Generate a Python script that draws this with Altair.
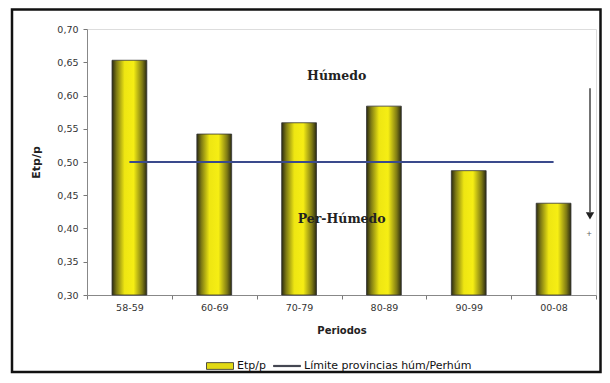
import altair as alt
import pandas as pd

periods = ["58-59", "60-69", "70-79", "80-89", "90-99", "00-08"]
etp_p = [0.653, 0.542, 0.559, 0.584, 0.487, 0.438]
limit_value = 0.50
series_names = ["Etp/p", "Límite provincias húm/Perhúm"]
y_ticks = [0.30, 0.35, 0.40, 0.45, 0.50, 0.55, 0.60, 0.65, 0.70]

bars_df = pd.DataFrame({"Periodo": periods, "Etp/p": etp_p})
limit_df = pd.DataFrame({"Periodo": [periods[0], periods[-1]], "v": [limit_value, limit_value]})
legend_df = pd.DataFrame({"serie": series_names})
labels_df = pd.DataFrame({
    "Periodo": ["70-79", "70-79"],
    "v": [0.629, 0.414],
    "txt": ["Húmedo", "Per-Húmedo"],
    "dx": [80, 85],
})
arrow_df = pd.DataFrame({"y1": [0.611], "y2": [0.425], "head": [0.419], "plus": [0.392]})

W, H = 509, 266
PL, PT, PR, PB = 79, 21, 6, 79
SANS = "DejaVu Sans"

xscale = alt.Scale(domain=periods, paddingInner=0, paddingOuter=0)
yscale = alt.Scale(domain=[0.30, 0.70], nice=False, zero=False)

grad = alt.Gradient(
    gradient="linear",
    x1=0, x2=1, y1=0, y2=0,
    stops=[
        alt.GradientStop(color="#2a2a12", offset=0),
        alt.GradientStop(color="#7e7a14", offset=0.13),
        alt.GradientStop(color="#eee612", offset=0.36),
        alt.GradientStop(color="#f6ee14", offset=0.62),
        alt.GradientStop(color="#7e7a14", offset=0.87),
        alt.GradientStop(color="#2a2a12", offset=1),
    ],
)

x_axis = alt.Axis(
    title="Periodos", labelAngle=0, tickBand="extent", tickSize=4,
    labelPadding=3, titlePadding=14, labelFontSize=9.5, titleFontSize=10,
    titleFontWeight="bold", labelColor="#333", titleColor="#222",
    domainColor="#888", tickColor="#777", labelFont=SANS,
    titleFont=SANS, labelOverlap=False,
)
y_axis = alt.Axis(
    title="Etp/p", values=y_ticks, grid=False, tickSize=4, labelPadding=5,
    labelExpr="replace(format(datum.value, '.2f'), '.', ',')",
    labelFontSize=9.5, titleFontSize=11, titleFontWeight="bold",
    labelColor="#333", titleColor="#222", domainColor="#888",
    tickColor="#777", labelFont=SANS, titleFont=SANS,
    titleX=-51, titleY=H / 2, titleAngle=-90, titleBaseline="middle",
    titleAlign="center", labelOverlap=False,
)


def X(field):
    return alt.X(field, type="nominal", scale=xscale, sort=periods, axis=x_axis)


def Y(field):
    return alt.Y(field, type="quantitative", scale=yscale, axis=y_axis)


frame = alt.Chart(pd.DataFrame({"a": [0]})).mark_rect(
    fill=None, stroke="#111", strokeWidth=2.5, clip=False
).encode(
    x=alt.value(-PL + 4), x2=alt.value(W + PR - 1.5),
    y=alt.value(-PT + 1.5), y2=alt.value(H + PB - 2),
)

bars = alt.Chart(bars_df).mark_bar(
    fill=grad, stroke="#333", strokeWidth=0.8, width={"band": 0.41}
).encode(x=X("Periodo"), y=Y("Etp/p"), y2=alt.datum(0.30))

line = alt.Chart(limit_df).mark_line(color="#3a4a8c", strokeWidth=2).encode(
    x=X("Periodo"), y=Y("v"),
)

texts = alt.Chart(labels_df).mark_text(
    font="DejaVu Serif", fontWeight="bold", fontSize=12.5, color="#222"
).encode(
    x=X("Periodo"), y=Y("v"),
    text="txt:N",
    xOffset=alt.XOffset("dx:Q", scale=None),
)

arrow = alt.Chart(arrow_df).mark_rule(color="#444", strokeWidth=1.5).encode(
    x=alt.value(503), y=Y("y1"), y2="y2:Q"
)
head = alt.Chart(arrow_df).mark_point(
    shape="triangle-down", filled=True, color="#222", size=70, opacity=1
).encode(x=alt.value(503), y=Y("head"))
plus = alt.Chart(arrow_df).mark_text(text="+", fontSize=9, color="#666").encode(
    x=alt.value(502), y=Y("plus")
)

legend_layer = alt.Chart(legend_df).mark_point(filled=True, opacity=0).encode(
    color=alt.Color(
        "serie:N",
        scale=alt.Scale(domain=series_names, range=["#e2da14", "#3a4a8c"]),
        legend=alt.Legend(
            title=None, orient="none", direction="horizontal",
            legendX=119, legendY=323,
            symbolOpacity=1, symbolSize=729, symbolStrokeColor="#2a2a2a",
            symbolStrokeWidth=0.8, labelFontSize=11, labelColor="#111",
            labelFont=SANS, columnPadding=5, labelOffset=3,
            labelLimit=0,
        ),
    ),
    shape=alt.Shape(
        "serie:N",
        scale=alt.Scale(
            domain=series_names,
            range=["M-1,-0.25H1V0.25H-1Z", "M-1,-0.045H1V0.045H-1Z"],
        ),
        legend=None,
    ),
)

chart = alt.layer(
    frame, bars, line, texts, arrow, head, plus, legend_layer
).properties(
    width=W, height=H,
    autosize=alt.AutoSizeParams(type="none"),
    padding={"left": PL, "top": PT, "right": PR, "bottom": PB},
).configure_view(stroke="transparent", strokeWidth=0).configure(background="white")

chart.save("out.html", embed_options={"renderer": "svg", "actions": False})
